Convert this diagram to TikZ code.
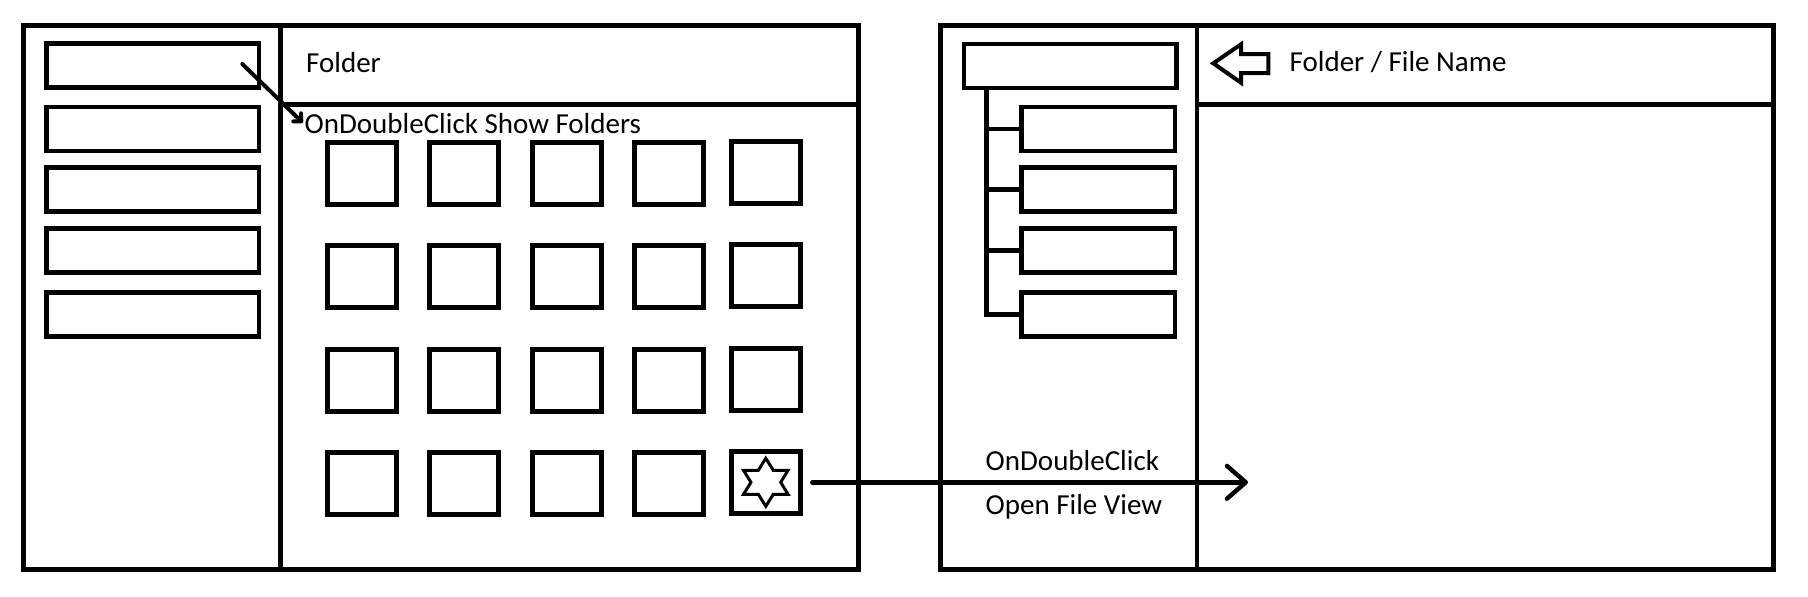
\documentclass[tikz,border=0pt]{standalone}
\usepackage{fontspec}
\setmainfont{Carlito}
\usetikzlibrary{arrows.meta}
\begin{document}
\begin{tikzpicture}[x=1pt,y=-1pt,
  lw/.style={line width=4.6pt},
  frame/.style={draw, lw, inner sep=0pt, outer sep=0pt, minimum height=544pt},
  lbox/.style={draw, lw, inner sep=0pt, outer sep=0pt, minimum width=212.4pt, minimum height=44pt},
  cbox/.style={draw, lw, inner sep=0pt, outer sep=0pt, minimum width=153.7pt, minimum height=44pt},
  sq/.style={draw, lw, inner sep=0pt, outer sep=0pt, minimum width=69pt, minimum height=62pt},
  lbl/.style={font=\fontsize{29}{34}\selectfont, inner sep=0pt, anchor=base west},
  conn/.style={lw, line cap=round},
  bigarrow/.style={line width=4.4pt, line cap=round, -{Straight Barb[angle=82:25pt, round]}},
  smallarrow/.style={line width=4pt, line cap=round, -{Straight Barb[angle=90:8pt, round]}}
]
\useasboundingbox (0,0) rectangle (1808,597);

% ---------- left window ----------
\node[frame, minimum width=835.2pt] (winL) at (440.9,297.3) {};
\draw[lw] (280.3,25.3) -- (280.3,569.3);
\draw[lw] (280.3,104.3) -- (858.5,104.3);

\node[lbox] (l1) at (152.8,65.7) {};
\node[lbox] (l2) at (152.8,128.8) {};
\node[lbox] (l3) at (152.8,189.5) {};
\node[lbox] (l4) at (152.8,250.7) {};
\node[lbox] (l5) at (152.8,314.7) {};

\node[lbl] (tfolder) at (306,72) {Folder};
\node[lbl] (tshow) at (304.5,133) {OnDoubleClick Show Folders};

\foreach \c/\x in {1/362,2/464,3/566.8,4/668.8}{
  \foreach \r/\y in {1/173.3,2/276.7,3/380.3,4/483.3}{
    \node[sq] (g\r\c) at (\x,\y) {};
  }
}
\foreach \r/\y in {1/172.3,2/275.7,3/379.3,4/482.3}{
  \node[sq] (g\r5) at (765.8,\y) {};
}

% star icon
\begin{scope}[shift={(g45.center)}, xscale=1.07]
  \draw[line width=3pt, line join=miter]
    (90:24) -- (60:13.9) -- (30:24) -- (0:13.9) -- (-30:24) -- (-60:13.9)
    -- (-90:24) -- (-120:13.9) -- (-150:24) -- (180:13.9) -- (150:24) -- (120:13.9) -- cycle;
\end{scope}

% diagonal arrow
\coordinate (d1) at (242.3,64);
\coordinate (d2) at (302.7,122.7);
\draw[smallarrow] (d1) -- (d2);

% ---------- right window ----------
\node[frame, minimum width=832.8pt] (winR) at (1357.1,297.3) {};
\draw[lw] (1197,25.3) -- (1197,569.3);
\draw[lw] (1197,104.3) -- (1773.5,104.3);

\node[lbox] (root) at (1070,65.8) {};
\node[cbox] (c1) at (1098.2,128.8) {};
\node[cbox] (c2) at (1098.2,189.5) {};
\node[cbox] (c3) at (1098.2,250.7) {};
\node[cbox] (c4) at (1098.2,314.7) {};

\coordinate (trunkTop) at (986.7,88);
\coordinate (trunkBot) at (986.7,314.7);
\draw[lw] (trunkTop) -- (trunkBot) -- (c4.west);
\foreach \k in {1,2,3}{
  \draw[lw] (trunkTop |- c\k.west) -- (c\k.west);
}

% back arrow
\draw[line width=4pt, line join=miter]
  (1213.3,63.3) -- (1241,44.3) -- (1241,54) -- (1268.3,54) -- (1268.3,73)
  -- (1241,73) -- (1241,82.7) -- cycle;

\node[lbl] (tname) at (1289.5,71.7) {Folder / File Name};
\node[lbl] (tdbl) at (985.5,470) {OnDoubleClick};
\node[lbl] (topen) at (985.5,514) {Open File View};

% long arrow from star tile to file view
\coordinate (tip) at (1248,482.3);
\draw[bigarrow, shorten <=12pt] (g45.east) -- (tip);
\end{tikzpicture}
\end{document}
